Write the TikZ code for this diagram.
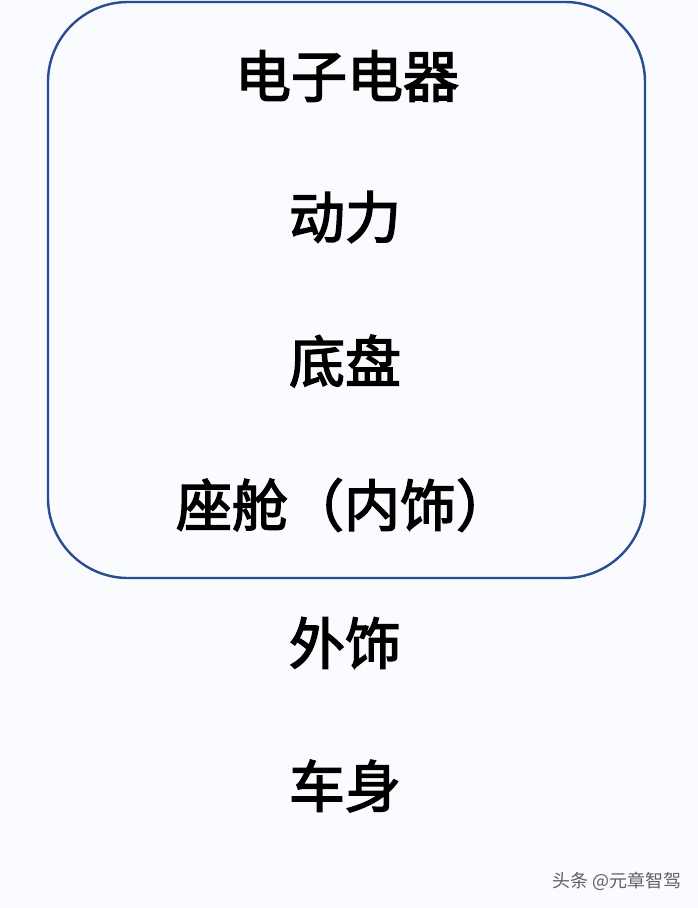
\documentclass[tikz,border=0pt]{standalone}
\usepackage{fontspec}
\usepackage{tikz}
\usetikzlibrary{positioning}
\newfontfamily\cjk{Noto Sans CJK SC}
\newfontfamily\cjkheavy[FakeBold=2.6]{Noto Sans CJK SC}
\definecolor{framecolor}{RGB}{40,78,145}
\definecolor{bgcolor}{RGB}{250,251,254}
\definecolor{markcolor}{RGB}{95,95,100}

\begin{document}
\begin{tikzpicture}[
    x=1pt, y=-1pt,
    item/.style={font=\cjkheavy\fontsize{56}{56}\selectfont, text=black, inner sep=0pt},
    frame/.style={draw=framecolor, line width=2.4pt, rounded corners=80pt}
]
    % canvas
    \fill[bgcolor] (0,0) rectangle (698,908);
    \useasboundingbox (0,0) rectangle (698,908);

    % frame around the upper four items
    \draw[frame] (48,2) rectangle (645,578);

    % items
    \node[item] (elec) at (347,76) {电子电器};
    \node[item] (power) at (345,217) {动力};
    \node[item] (chassis) at (345,361) {底盘};
    \node[item] (cabin) at (344,505) {座舱（内饰）};
    \node[item] (exterior) at (345,643) {外饰};
    \node[item] (body) at (345,786) {车身};

    % watermark
    \node[font=\cjk\fontsize{18}{18}\selectfont, text=markcolor, anchor=east, inner sep=0pt] (mark) at (682,881) {头条 @元章智驾};
\end{tikzpicture}
\end{document}
